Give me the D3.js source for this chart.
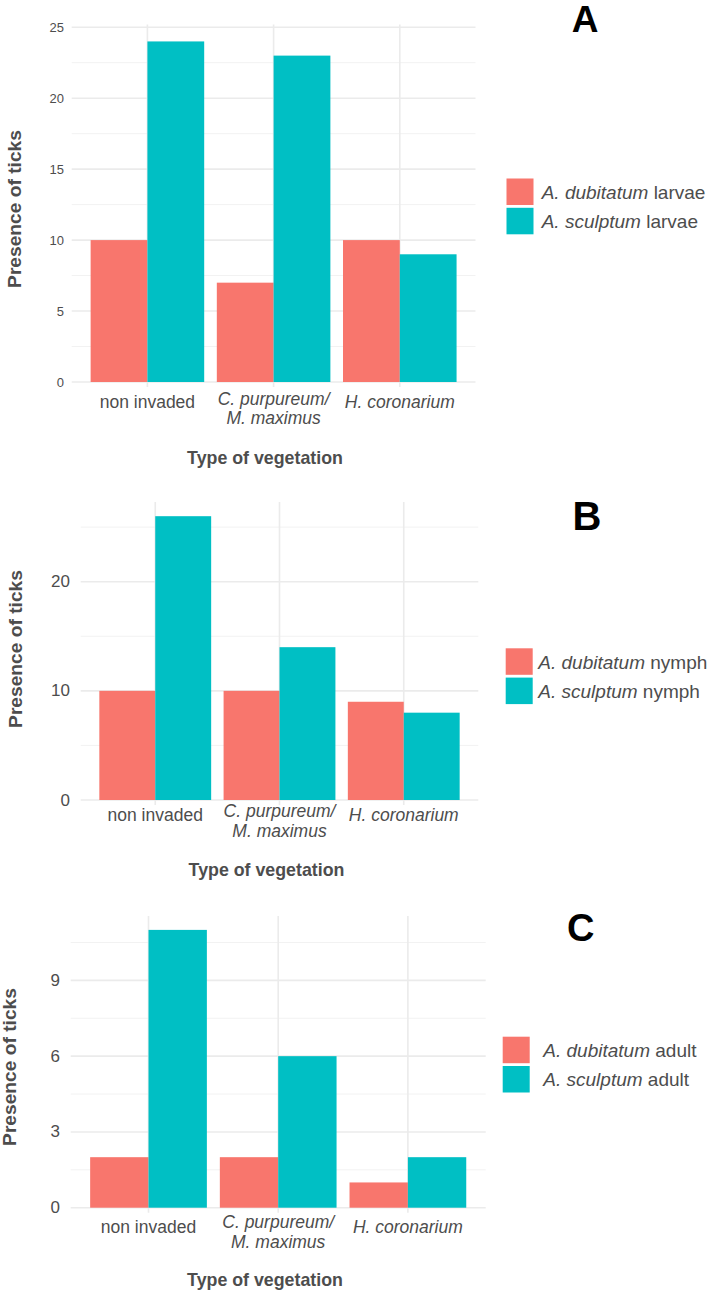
<!DOCTYPE html>
<html>
<head>
<meta charset="utf-8">
<script src="https://cdn.jsdelivr.net/npm/d3@7"></script>
<style>
  body { margin: 0; background: #fff; }
  text { font-family: 'Liberation Sans', Arial, Helvetica, sans-serif; }
</style>
</head>
<body>
<svg id="svg" width="712" height="1292"></svg>
<script>
// Categories on x axis (multi-line labels), italic for species names
const categoryLabels = [['non invaded'], ['C. purpureum/', 'M. maximus'], ['H. coronarium']];
const categoryItalic = [false, true, true];
const categoryKeys = ['non', 'cpur', 'hcor'];

// Series
const speciesNames = ['A. dubitatum', 'A. sculptum'];
const speciesColors = ['#F8766D', '#00BFC4'];
const stageNames = ['larvae', 'nymph', 'adult'];
const panelLetters = ['A', 'B', 'C'];

// Values per category (non invaded, C. purpureum/M. maximus, H. coronarium)
const dubitatumLarvae = [10, 7, 10];
const sculptumLarvae = [24, 23, 9];
const dubitatumNymph = [10, 10, 9];
const sculptumNymph = [26, 14, 8];
const dubitatumAdult = [2, 2, 1];
const sculptumAdult = [11, 6, 2];

// Tick labels (major) and minor grid values
const ticksLarvae = [0, 5, 10, 15, 20, 25];
const minorLarvae = [2.5, 7.5, 12.5, 17.5, 22.5];
const ticksNymph = [0, 10, 20];
const minorNymph = [5, 15, 25];
const ticksAdult = [0, 3, 6, 9];
const minorAdult = [1.5, 4.5, 7.5, 10.5];

const xTitleText = 'Type of vegetation';
const yTitleText = 'Presence of ticks';

const svg = d3.select('#svg');
const textColor = '#4d4d4d';

// layout of each panel (pixel positions), data goes in separately
const layouts = [
  { left: 71.7, right: 475.5, y0: 382, top: 24.4, tickSize: 13, tickEnd: 64,
    lab1: 25.7, lab2a: 23, lab2b: 42, xTitleX: 265, xTitleY: 463.5, yTitleX: 14.5, yTitleY: 209,
    letterX: 585, letterY: 32, letterSize: 37, legX: 506.5, legY: 178.5, legTextX: 541.7 },
  { left: 80.7, right: 478.3, y0: 800, top: 502, tickSize: 17, tickEnd: 70,
    lab1: 21, lab2a: 16.7, lab2b: 36.7, xTitleX: 266.5, xTitleY: 876, yTitleX: 15.5, yTitleY: 649,
    letterX: 587, letterY: 530, letterSize: 40, legX: 505.7, legY: 648.3, legTextX: 538.3 },
  { left: 70.7, right: 485.7, y0: 1207.7, top: 916, tickSize: 17, tickEnd: 60,
    lab1: 25.6, lab2a: 20.5, lab2b: 40.6, xTitleX: 265, xTitleY: 1286, yTitleX: 9.5, yTitleY: 1067,
    letterX: 580.7, letterY: 941, letterSize: 38, legX: 502.7, legY: 1036.7, legTextX: 543.3 }
];

const panelData = [
  { dub: dubitatumLarvae, scu: sculptumLarvae, ticks: ticksLarvae, minor: minorLarvae },
  { dub: dubitatumNymph, scu: sculptumNymph, ticks: ticksNymph, minor: minorNymph },
  { dub: dubitatumAdult, scu: sculptumAdult, ticks: ticksAdult, minor: minorAdult }
];

const render = (i) => {
  const L = layouts[i];
  const D = panelData[i];
  const g = svg.append('g');

  const rows = categoryKeys.map((k, j) => ({ key: k, vals: [D.dub[j], D.scu[j]] }));
  const maxVal = d3.max(rows, r => d3.max(r.vals));

  // ggplot style: 5% expansion on top, none at bottom
  const yScale = d3.scaleLinear()
    .domain([0, maxVal * 1.05])
    .range([L.y0, L.top]);

  // category centers, 0.6 units of expansion either side
  const xScale = d3.scalePoint()
    .domain(categoryKeys)
    .range([L.left, L.right])
    .padding(0.6);
  const step = xScale.step();
  const sub = d3.scaleBand()
    .domain([0, 1])
    .range([-0.45 * step, 0.45 * step]);

  // minor grid
  g.selectAll('.minor').data(D.minor).enter().append('line')
    .attr('class', 'minor')
    .attr('x1', L.left).attr('x2', L.right)
    .attr('y1', d => yScale(d)).attr('y2', d => yScale(d))
    .attr('stroke', '#f2f2f2').attr('stroke-width', 1);

  // major grid
  g.selectAll('.major').data(D.ticks).enter().append('line')
    .attr('class', 'major')
    .attr('x1', L.left).attr('x2', L.right)
    .attr('y1', d => yScale(d)).attr('y2', d => yScale(d))
    .attr('stroke', '#ebebeb').attr('stroke-width', 1.6);

  g.selectAll('.vgrid').data(categoryKeys).enter().append('line')
    .attr('class', 'vgrid')
    .attr('x1', d => xScale(d)).attr('x2', d => xScale(d))
    .attr('y1', L.top).attr('y2', L.y0 + 5)
    .attr('stroke', '#ebebeb').attr('stroke-width', 1.6);

  // bars
  const grp = g.selectAll('.cat').data(rows).enter().append('g')
    .attr('class', 'cat')
    .attr('transform', d => `translate(${xScale(d.key)},0)`);
  grp.selectAll('rect').data(d => d.vals).enter().append('rect')
    .attr('x', (d, k) => sub(k))
    .attr('width', sub.bandwidth())
    .attr('y', d => yScale(d))
    .attr('height', d => L.y0 - yScale(d))
    .attr('fill', (d, k) => speciesColors[k]);

  // y tick labels
  g.selectAll('.ytick').data(D.ticks).enter().append('text')
    .attr('class', 'ytick')
    .attr('x', L.tickEnd)
    .attr('y', d => yScale(d))
    .attr('text-anchor', 'end')
    .attr('dominant-baseline', 'central')
    .attr('font-size', L.tickSize)
    .attr('fill', textColor)
    .text(d => d);

  // x tick labels
  categoryKeys.forEach((k, j) => {
    const lines = categoryLabels[j];
    lines.forEach((t, n) => {
      const dy = lines.length === 1 ? L.lab1 : (n === 0 ? L.lab2a : L.lab2b);
      g.append('text')
        .attr('x', xScale(k))
        .attr('y', L.y0 + dy)
        .attr('text-anchor', 'middle')
        .attr('font-size', 17.5)
        .attr('font-style', categoryItalic[j] ? 'italic' : 'normal')
        .attr('fill', textColor)
        .text(t);
    });
  });

  // axis titles
  g.append('text')
    .attr('x', L.xTitleX)
    .attr('y', L.xTitleY)
    .attr('text-anchor', 'middle')
    .attr('font-size', 17.8)
    .attr('font-weight', 'bold')
    .attr('fill', textColor)
    .text(xTitleText);

  g.append('text')
    .attr('transform', `translate(${L.yTitleX},${L.yTitleY}) rotate(-90)`)
    .attr('text-anchor', 'middle')
    .attr('dominant-baseline', 'central')
    .attr('font-size', 19.2)
    .attr('font-weight', 'bold')
    .attr('fill', textColor)
    .text(yTitleText);

  // panel letter
  g.append('text')
    .attr('x', L.letterX)
    .attr('y', L.letterY)
    .attr('text-anchor', 'middle')
    .attr('font-size', L.letterSize)
    .attr('font-weight', 'bold')
    .attr('fill', '#000')
    .text(panelLetters[i]);

  // legend
  const keyW = 27, keyH = 26.5, keyGap = 2.8;
  speciesNames.forEach((s, k) => {
    const ky = L.legY + k * (keyH + keyGap);
    g.append('rect')
      .attr('x', L.legX).attr('y', ky)
      .attr('width', keyW).attr('height', keyH)
      .attr('fill', speciesColors[k]);
    const t = g.append('text')
      .attr('x', L.legTextX)
      .attr('y', ky + keyH / 2)
      .attr('dominant-baseline', 'central')
      .attr('font-size', 19)
      .attr('fill', textColor);
    t.append('tspan').attr('font-style', 'italic').text(s);
    t.append('tspan').text(' ' + stageNames[i]);
  });
};

[0, 1, 2].forEach(render);
</script>
</body>
</html>
